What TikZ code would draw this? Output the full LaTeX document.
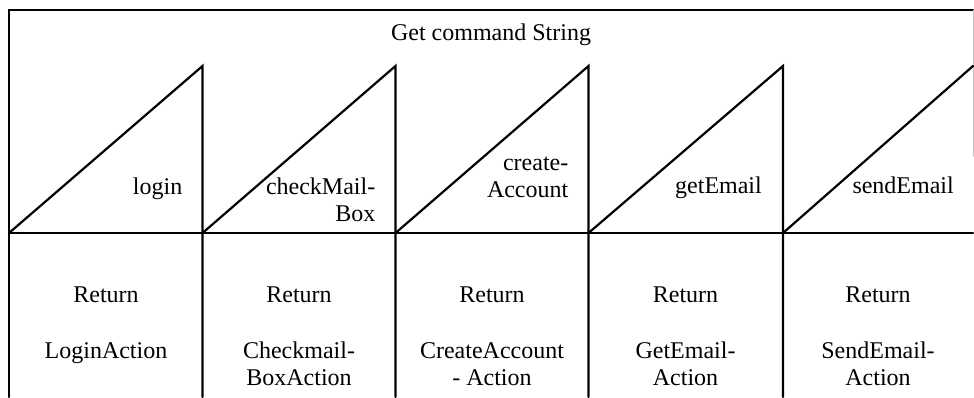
\documentclass[tikz,border=0pt]{standalone}
\usepackage{fontspec}
\setmainfont{Liberation Serif}
\begin{document}
\begin{tikzpicture}[x=1pt,y=-1pt,
  rule/.style={line width=2.2pt, line cap=round, line join=miter},
  faint/.style={line width=1pt, draw=black!22},
  txt/.style={inner sep=0pt, font=\fontsize{24}{27}\selectfont},
  cmd/.style={txt, anchor=base east, align=right},
  ret/.style={txt, anchor=base, align=center}]
\useasboundingbox (0,0) rectangle (974,397);

% column edges of the dispatch table
\foreach \i/\x in {0/9,1/202.5,2/395.5,3/588.5,4/783,5/973}{
  \coordinate (top\i) at (\x,10);
  \coordinate (apex\i) at (\x,66);
  \coordinate (mid\i) at (\x,233);
  \coordinate (bot\i) at (\x,397);
}

% outer frame and the split between tests and results
\draw[rule] (bot0) -- (top0) -- (top5);
\draw[faint] (top5) -- (973,157);
\draw[rule] (mid0) -- (mid5);

% one triangle per command test
\foreach \a/\b in {0/1,1/2,2/3,3/4}{
  \draw[rule] (mid\a) -- (apex\b) -- (bot\b);
}
\draw[rule] (mid4) -- (apex5);

% heading
\node[txt, anchor=base] (head) at (491,40) {Get command String};

% command names (base anchor sits on the last line)
\node[cmd] (login)  at (182.5,194) {login};
\node[cmd] (check)  at (375.5,221) {checkMail-\\Box};
\node[cmd] (create) at (568.5,197) {create-\\Account};
\node[cmd] (getm)   at (762,193)   {getEmail};
\node[cmd] (sendm)  at (954,193)   {sendEmail};

% returned actions
\foreach \n/\x in {1/106,2/299,3/492,4/685.5,5/878}{
  \node[ret] (ret\n) at (\x,302) {Return};
}
\node[ret] (act1) at (106,358)   {LoginAction};
\node[ret] (act2) at (299,385)   {Checkmail-\\BoxAction};
\node[ret] (act3) at (492,385)   {CreateAccount\\- Action};
\node[ret] (act4) at (685.5,385) {GetEmail-\\Action};
\node[ret] (act5) at (878,385)   {SendEmail-\\Action};
\end{tikzpicture}
\end{document}
